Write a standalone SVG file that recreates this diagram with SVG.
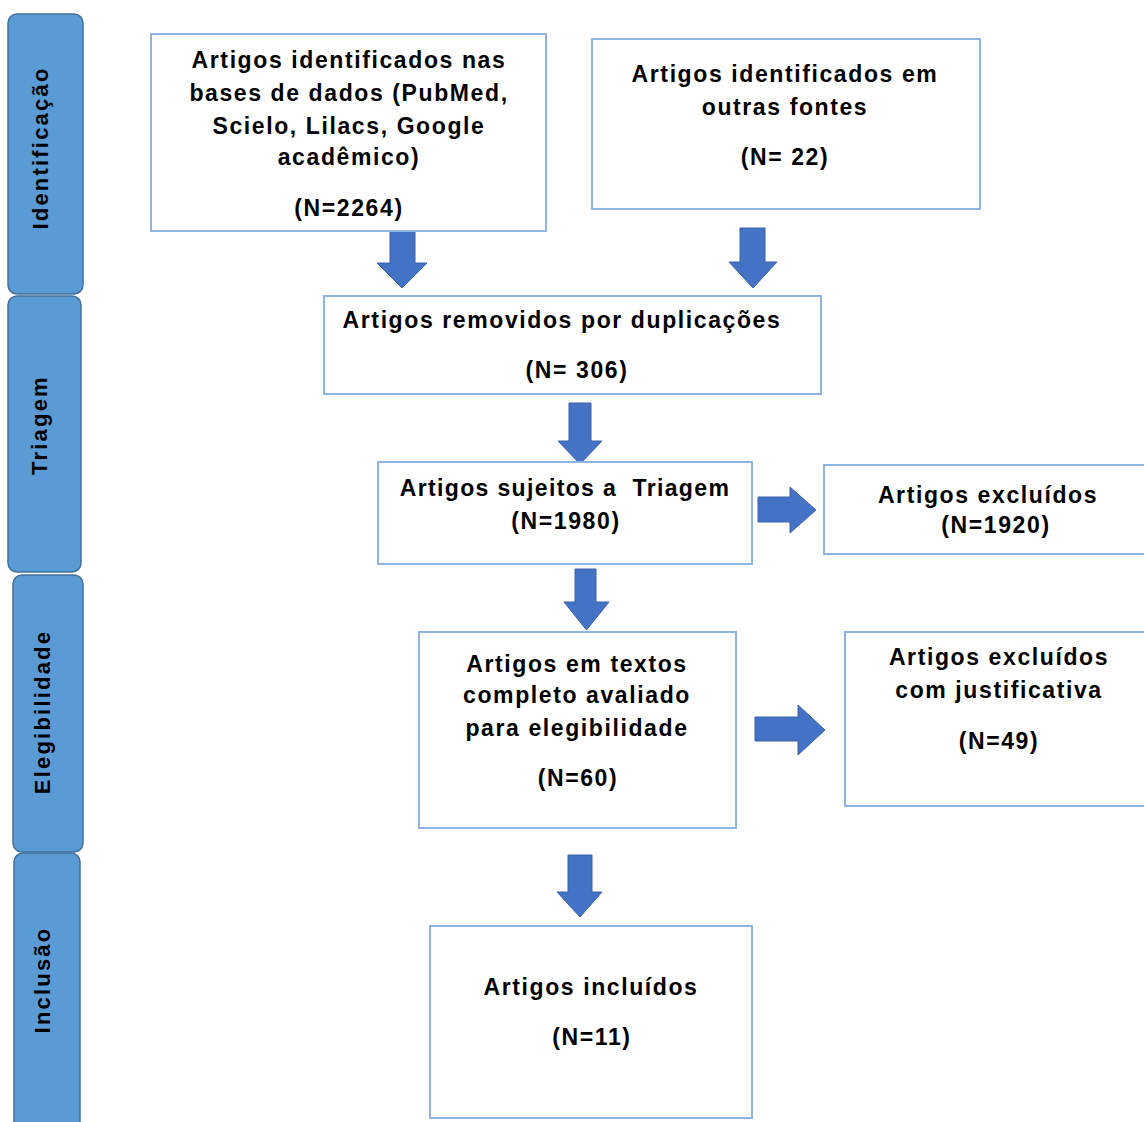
<svg xmlns="http://www.w3.org/2000/svg" width="1144" height="1122" viewBox="0 0 1144 1122">
<style>
.side{fill:#5b9bd5;stroke:#41719c;stroke-width:1.5}
.box{fill:#ffffff;stroke:#8eb4e3;stroke-width:2}
.arr{fill:#4472c4;stroke:#3a62ab;stroke-width:1}
text{font-family:"Liberation Sans",Arial,sans-serif;font-weight:bold;font-size:23px;letter-spacing:1.6px;fill:#000000}
.c{text-anchor:middle}
.lbl{text-anchor:middle;dominant-baseline:central;font-size:22px;letter-spacing:2.2px}
.pre{white-space:pre;letter-spacing:1.35px}
</style>
<rect width="1144" height="1122" fill="#ffffff"/>
<g id="phase-identificacao">
<rect class="side" x="8" y="14" width="75" height="280" rx="9"/>
<text class="lbl" transform="translate(40,148) rotate(-90)">Identificação</text>
</g>
<g id="phase-triagem">
<rect class="side" x="8" y="296" width="73" height="276" rx="9"/>
<text class="lbl" transform="translate(39,425) rotate(-90)">Triagem</text>
</g>
<g id="phase-elegibilidade">
<rect class="side" x="13" y="575" width="70" height="277" rx="9"/>
<text class="lbl" transform="translate(42,712) rotate(-90)">Elegibilidade</text>
</g>
<g id="phase-inclusao">
<rect class="side" x="14" y="853" width="66" height="285" rx="9"/>
<text class="lbl" transform="translate(42,980) rotate(-90)">Inclusão</text>
</g>
<g id="connectors">
<path class="arr" d="M390,230 H415 V263 H427 L402,288 L377,263 H390 Z"/>
<path class="arr" d="M740,228 H765 V262 H777 L753,288 L729,262 H740 Z"/>
<path class="arr" d="M569,403 H591 V441 H602 L580,464 L558,441 H569 Z"/>
<path class="arr" d="M758,497 V522 H790 V533 L816,510 L790,487 V497 Z"/>
<path class="arr" d="M575,569 H596 V602 H609 L586.5,630 L564,602 H575 Z"/>
<path class="arr" d="M755,717 V741 H798 V755 L825,730 L798,705 V717 Z"/>
<path class="arr" d="M568,855 H592 V892 H602 L580,917 L557,892 H568 Z"/>
</g>
<g id="n-databases">
<rect class="box" x="151" y="34" width="395" height="197"/>
<text class="c" x="349" y="68">Artigos identificados nas</text>
<text class="c" x="349" y="101">bases de dados (PubMed,</text>
<text class="c" x="349" y="134">Scielo, Lilacs, Google</text>
<text class="c" x="349" y="165">acadêmico)</text>
<text class="c" x="349" y="216">(N=2264)</text>
</g>
<g id="n-other">
<rect class="box" x="592" y="39" width="388" height="170"/>
<text class="c" x="785" y="82">Artigos identificados em</text>
<text class="c" x="785" y="115">outras fontes</text>
<text class="c" x="785" y="165">(N= 22)</text>
</g>
<g id="n-duplicates">
<rect class="box" x="324" y="296" width="497" height="98"/>
<text class="c" x="562" y="328">Artigos removidos por duplicações</text>
<text class="c" x="577" y="378">(N= 306)</text>
</g>
<g id="n-screening">
<rect class="box" x="378" y="462" width="374" height="102"/>
<text class="c pre" x="565" y="496">Artigos sujeitos a  Triagem</text>
<text class="c" x="566" y="529">(N=1980)</text>
</g>
<g id="n-excluded">
<rect class="box" x="824" y="465" width="330" height="89"/>
<text class="c" x="988" y="503">Artigos excluídos</text>
<text class="c" x="996" y="533">(N=1920)</text>
</g>
<g id="n-eligibility">
<rect class="box" x="419" y="632" width="317" height="196"/>
<text class="c" x="577" y="672">Artigos em textos</text>
<text class="c" x="577" y="703">completo avaliado</text>
<text class="c" x="577" y="736">para elegibilidade</text>
<text class="c" x="578" y="786">(N=60)</text>
</g>
<g id="n-excluded-justified">
<rect class="box" x="845" y="632" width="309" height="174"/>
<text class="c" x="999" y="665">Artigos excluídos</text>
<text class="c" x="999" y="698">com justificativa</text>
<text class="c" x="999" y="749">(N=49)</text>
</g>
<g id="n-included">
<rect class="box" x="430" y="926" width="322" height="192"/>
<text class="c" x="591" y="995">Artigos incluídos</text>
<text class="c" x="592" y="1045">(N=11)</text>
</g>
</svg>
